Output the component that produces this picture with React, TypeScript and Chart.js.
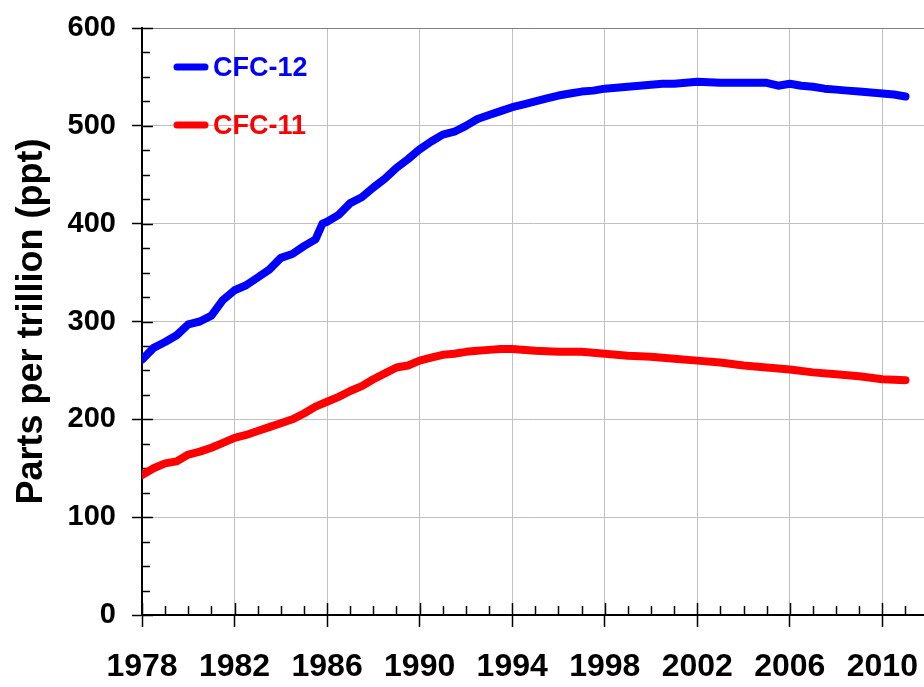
import React, { useEffect, useRef } from "react";
import { Chart, registerables } from "chart.js";

Chart.register(...registerables);

const cfc12Years = [
  1978.0, 1978.5, 1979.0, 1979.5, 1980.0, 1980.5, 1981.0, 1981.5, 1982.0, 1982.5,
  1983.0, 1983.5, 1984.0, 1984.5, 1985.0, 1985.5, 1985.8, 1986.0, 1986.5, 1987.0,
  1987.5, 1988.0, 1988.5, 1989.0, 1989.5, 1990.0, 1990.5, 1991.0, 1991.5, 1992.0,
  1992.5, 1993.0, 1993.5, 1994.0, 1994.5, 1995.0, 1995.5, 1996.0, 1996.5, 1997.0,
  1997.5, 1998.0, 1998.5, 1999.0, 1999.5, 2000.0, 2000.5, 2001.0, 2001.5, 2002.0,
  2003.0, 2004.0, 2005.0, 2005.5, 2006.0, 2006.5, 2007.0, 2007.5, 2008.0, 2008.5,
  2009.0, 2009.5, 2010.0, 2010.5, 2011.0,
];
const cfc12Values = [
  261, 273, 279, 286, 297, 300, 306, 322, 332, 337,
  345, 353, 365, 369, 377, 384, 400, 402, 409, 421,
  427, 437, 446, 457, 466, 476, 484, 491, 494, 500,
  507, 511, 515, 519, 522, 525, 528, 531, 533, 535,
  536, 538, 539, 540, 541, 542, 543, 543, 544, 545,
  544, 544, 544, 541, 543, 541, 540, 538, 537, 536,
  535, 534, 533, 532, 530,
];

const cfc11Years = [
  1978.0, 1978.5, 1979.0, 1979.5, 1980.0, 1980.5, 1981.0, 1981.5, 1982.0, 1982.5,
  1983.0, 1983.5, 1984.0, 1984.5, 1985.0, 1985.5, 1986.0, 1986.5, 1987.0, 1987.5,
  1988.0, 1988.5, 1989.0, 1989.5, 1990.0, 1990.5, 1991.0, 1991.5, 1992.0, 1992.5,
  1993.0, 1993.5, 1994.0, 1995.0, 1996.0, 1997.0, 1998.0, 1999.0, 2000.0, 2001.0,
  2002.0, 2003.0, 2004.0, 2005.0, 2006.0, 2007.0, 2008.0, 2009.0, 2010.0, 2011.0,
];
const cfc11Values = [
  143, 150, 155, 157, 164, 167, 171, 176, 181, 184,
  188, 192, 196, 200, 206, 213, 218, 223, 229, 234,
  241, 247, 253, 255, 260, 263, 266, 267, 269, 270,
  271, 272, 272, 270, 269, 269, 267, 265, 264, 262,
  260, 258, 255, 253, 251, 248, 246, 244, 241, 240,
];

const seriesNames = ["CFC-12", "CFC-11"];
const seriesColors = ["#0000FF", "#FF0000"];

const xTickYears = [1978, 1982, 1986, 1990, 1994, 1998, 2002, 2006, 2010];
const yTickValues = [0, 100, 200, 300, 400, 500, 600];
const xMin = 1978;
const xMax = 2011.8;
const xMinorStep = 1;
const yMinorStep = 25;
const yAxisTitle = "Parts per trillion (ppt)";

const FONT = "'Liberation Sans', Arial, sans-serif";

const axisDecorPlugin = {
  id: "axisDecor",
  beforeDatasetsDraw(chart: any) {
    const ctx = chart.ctx;
    const xs = chart.scales.x;
    const ys = chart.scales.y;
    const area = chart.chartArea;
    ctx.save();
    ctx.strokeStyle = "#000";
    ctx.lineWidth = 1.5;
    for (let v = xMin; v <= xMax + 1e-9; v += xMinorStep) {
      const px = Math.round(xs.getPixelForValue(v)) + 0.5;
      const major = xTickYears.includes(v);
      const len = major ? 12 : 9;
      ctx.beginPath();
      ctx.moveTo(px, area.bottom);
      ctx.lineTo(px, area.bottom - len);
      ctx.stroke();
    }
    for (let v = 0; v <= 600; v += yMinorStep) {
      const py = Math.round(ys.getPixelForValue(v)) + 0.5;
      const major = yTickValues.includes(v);
      const len = major ? 11 : 8;
      ctx.beginPath();
      ctx.moveTo(area.left, py);
      ctx.lineTo(area.left + len, py);
      ctx.stroke();
    }
    ctx.restore();
  },
  afterDatasetsDraw(chart: any) {
    const ctx = chart.ctx;
    ctx.save();
    const rows = [67, 125];
    seriesNames.forEach((name, i) => {
      const y = rows[i];
      ctx.strokeStyle = seriesColors[i];
      ctx.lineWidth = 7;
      ctx.lineCap = "round";
      ctx.beginPath();
      ctx.moveTo(177, y);
      ctx.lineTo(205, y);
      ctx.stroke();
      ctx.fillStyle = seriesColors[i];
      ctx.font = `bold 27px ${FONT}`;
      ctx.textAlign = "left";
      ctx.textBaseline = "middle";
      ctx.fillText(name, 213, y + 2);
    });
    ctx.restore();
  },
};

export default function App() {
  const canvasRef = useRef<HTMLCanvasElement | null>(null);

  useEffect(() => {
    if (!canvasRef.current) return;
    const chart = new Chart(canvasRef.current, {
      type: "line",
      data: {
        datasets: [
          {
            label: seriesNames[0],
            data: cfc12Years.map((x, i) => ({ x, y: cfc12Values[i] })),
            borderColor: seriesColors[0],
            backgroundColor: seriesColors[0],
            borderWidth: 8,
            pointRadius: 0,
            tension: 0,
            borderJoinStyle: "round",
            borderCapStyle: "round",
          },
          {
            label: seriesNames[1],
            data: cfc11Years.map((x, i) => ({ x, y: cfc11Values[i] })),
            borderColor: seriesColors[1],
            backgroundColor: seriesColors[1],
            borderWidth: 8,
            pointRadius: 0,
            tension: 0,
            borderJoinStyle: "round",
            borderCapStyle: "round",
          },
        ],
      },
      options: {
        responsive: false,
        animation: false,
        events: [],
        layout: { padding: { top: 28, left: 0, right: 0, bottom: 0 } },
        plugins: {
          legend: { display: false },
          tooltip: { enabled: false },
        },
        scales: {
          x: {
            type: "linear",
            min: xMin,
            max: xMax,
            afterBuildTicks: (scale: any) => {
              scale.ticks = xTickYears.map((v) => ({ value: v }));
            },
            afterFit: (scale: any) => {
              scale.height = 72;
              scale.paddingLeft = 0;
              scale.paddingRight = 0;
            },
            grid: {
              color: "#c0c0c0",
              lineWidth: 1,
              tickColor: "#000",
              tickLength: 12,
              tickWidth: 1.5,
            },
            border: { color: "#000", width: 2 },
            ticks: {
              color: "#000",
              font: { family: FONT, size: 32, weight: "bold" },
              padding: 21,
              maxRotation: 0,
              autoSkip: false,
              callback: (v: any) => String(v),
            },
          },
          y: {
            type: "linear",
            min: 0,
            max: 600,
            afterBuildTicks: (scale: any) => {
              scale.ticks = yTickValues.map((v) => ({ value: v }));
            },
            afterFit: (scale: any) => {
              scale.width = 142;
              scale.paddingTop = 0;
              scale.paddingBottom = 0;
            },
            grid: {
              color: (c: any) => (c.tick && c.tick.value === 600 ? "#808080" : "#c0c0c0"),
              lineWidth: 1,
              tickColor: "#000",
              tickLength: 10,
              tickWidth: 1.5,
            },
            border: { color: "#000", width: 2 },
            ticks: {
              color: "#000",
              font: { family: FONT, size: 29, weight: "bold" },
              padding: 16,
              autoSkip: false,
            },
            title: {
              display: true,
              text: yAxisTitle,
              color: "#000",
              font: { family: FONT, size: 36, weight: "bold" },
              padding: { top: 10, bottom: 0 },
            },
          },
        },
      },
      plugins: [axisDecorPlugin],
    } as any);
    return () => chart.destroy();
  }, []);

  return (
    <div style={{ position: "absolute", left: 0, top: 0, width: 924, height: 687, background: "#fff" }}>
      <canvas ref={canvasRef} width={924} height={687} style={{ display: "block" }} />
    </div>
  );
}
